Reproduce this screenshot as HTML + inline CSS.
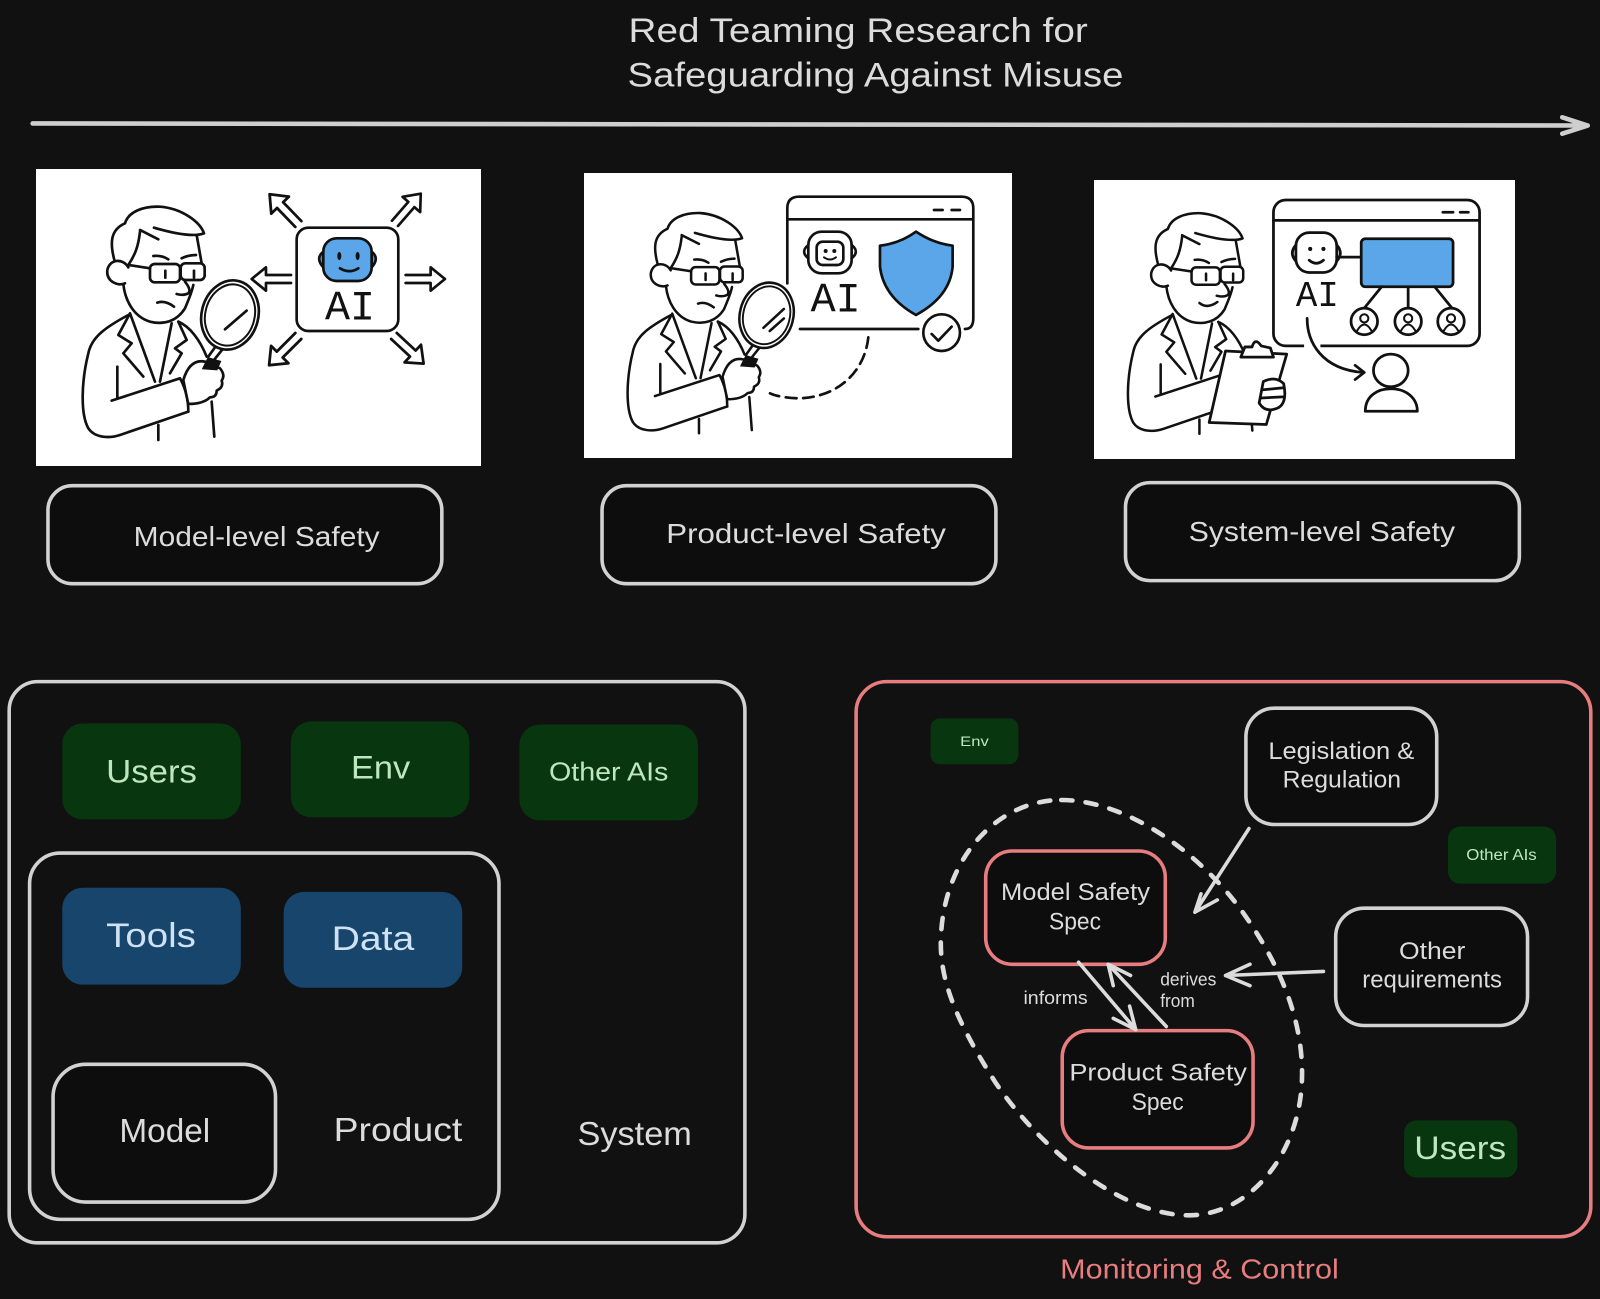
<!DOCTYPE html>
<html><head><meta charset="utf-8"><style>
html,body{margin:0;padding:0;background:#111112;width:1600px;height:1299px;overflow:hidden}
svg{display:block}
text{font-family:"Liberation Sans",sans-serif}
.t{fill:#dcdcdc}
.g{fill:#bfe6bf}
.b{fill:#cfe2f3}
.r{fill:#e87d80}
.box{fill:#0d0d0e;stroke:#d2d2d2;stroke-width:3.5}
.pk{fill:#0d0d0e;stroke:#e87d80;stroke-width:3.5}
.ln{fill:none;stroke:#dcdcdc;stroke-width:3.5;stroke-linecap:round;stroke-linejoin:round}
.k{fill:none;stroke:#111;stroke-width:8;stroke-linecap:round;stroke-linejoin:round}
.kw{fill:#fff;stroke:#111;stroke-width:8;stroke-linecap:round;stroke-linejoin:round}
.ai{font-family:"Liberation Mono",monospace;fill:#111}
</style></head><body>
<svg xmlns="http://www.w3.org/2000/svg" width="1600" height="1299" viewBox="0 0 1600 1299">
<defs>
<g id="head">
<path class="k" d="M205,405 C140,440 95,470 85,520 C65,600 60,700 85,745 C105,775 150,775 180,765 L385,695 M355,425 C390,440 420,480 440,530"/>
<path class="k" d="M172,560 L172,655 M155,662 L360,595 Q385,640 385,695 M210,400 L175,465 L215,490 L190,520 L250,590 M210,400 L285,605 M335,430 L300,605 M355,425 L380,480 L345,505 L365,520 L330,580 M295,735 L295,780 M455,665 L463,770"/>
<path class="k" d="M190,312 C195,360 220,410 270,425 C310,435 350,425 375,385 C385,360 395,340 400,315 M410,165 L425,250"/>
<path class="k" d="M163,240 C150,190 150,150 195,130 C205,95 250,78 300,80 C365,85 420,125 432,160 C400,172 340,160 282,143 M240,155 C235,200 225,225 205,255 M240,150 L295,178"/>
<path class="kw" d="M205,262 C190,235 150,235 142,270 C138,305 175,320 195,310"/>
<path class="k" d="M205,255 L270,265 M280,228 Q305,225 325,238 M365,235 Q385,225 408,225 M375,305 Q395,330 385,340 Q370,348 350,342"/>
<rect class="k" x="270" y="252" width="90" height="55" rx="14"/>
<rect class="k" x="362" y="250" width="72" height="50" rx="14"/>
<path class="k" d="M316,272 L316,293 M402,272 L402,293"/>
</g>
<g id="mouthSad"><path class="k" d="M292,368 Q315,360 342,380"/></g>
<g id="mag">
<path class="k" d="M445,530 L470,495 M462,540 L490,505"/>
<ellipse class="kw" cx="510" cy="405" rx="85" ry="105" transform="rotate(15 510 405)"/>
<ellipse class="k" style="stroke-width:6" cx="510" cy="405" rx="74" ry="93" transform="rotate(15 510 405)"/>
<path class="kw" d="M370,600 C385,550 410,540 435,545 L480,565 Q497,585 485,602 Q492,622 470,632 Q470,652 450,652 Q430,672 385,672 L378,640 Z"/>
<path fill="#111" stroke="#111" stroke-width="6" d="M430,565 L445,535 L480,545 L470,568 Z"/>
</g>
<path id="arw" class="k" d="M0,-12 L75,-12 L75,-35 L118,0 L75,35 L75,12 L0,12"/>
</defs>
<rect width="1600" height="1299" fill="#111112"/>

<!-- white panels -->
<rect x="36" y="169" width="445" height="297" fill="#fff"/>
<rect x="584" y="173" width="428" height="285" fill="#fff"/>
<rect x="1094" y="180" width="421" height="279" fill="#fff"/>

<!-- panel 1 -->
<g transform="translate(60,180) scale(.3333)">
<use href="#head"/><use href="#mouthSad"/><use href="#mag"/>
<path class="k" d="M495,448 L560,392"/>
<rect class="k" x="710" y="143" width="305" height="310" rx="35"/>
<path fill="#6a8fb5" stroke="#111" stroke-width="8" d="M790,215 Q765,235 790,262 Z M935,215 Q960,235 935,262 Z"/>
<rect x="790" y="175" width="145" height="128" rx="40" fill="#5aa6e8" stroke="#111" stroke-width="8"/>
<ellipse cx="838" cy="228" rx="6" ry="12" fill="#111"/><ellipse cx="893" cy="228" rx="6" ry="12" fill="#111"/>
<path class="k" d="M840,265 Q868,282 895,265"/>
<text class="ai" x="795" y="418" font-size="125">AI</text>
<use href="#arw" transform="translate(1037,297)"/>
<use href="#arw" transform="translate(693,297) rotate(180)"/>
<use href="#arw" transform="translate(715,132) rotate(-134) scale(1.05)"/>
<use href="#arw" transform="translate(1005,130) rotate(-49)"/>
<use href="#arw" transform="translate(715,468) rotate(135) scale(1.05)"/>
<use href="#arw" transform="translate(1002,468) rotate(43) scale(1.03)"/>
</g>

<!-- panel 2 -->
<g transform="translate(620,180) scale(.3333)">
<path class="k" d="M502,310 L502,85 Q502,50 537,50 L1025,50 Q1060,50 1060,85 L1060,415 Q1060,447 1035,447 M540,447 L895,447 M502,118 L1060,118 M942,90 L968,90 M995,90 L1020,90"/>
<rect class="k" x="565" y="155" width="130" height="125" rx="40"/>
<path class="k" d="M565,195 Q540,215 565,235 M695,195 Q720,215 695,235"/>
<rect class="k" x="590" y="185" width="80" height="70" rx="18"/>
<circle cx="617" cy="213" r="6" fill="#111"/><circle cx="643" cy="213" r="6" fill="#111"/>
<path class="k" style="stroke-width:6" d="M612,232 Q630,245 648,232"/>
<text class="ai" x="572" y="395" font-size="125">AI</text>
<path fill="#5aa6e8" stroke="#111" stroke-width="8" stroke-linejoin="round" d="M888,155 Q940,190 998,197 L998,260 Q990,350 888,405 Q790,350 780,260 L780,197 Q840,190 888,155 Z"/>
<circle class="kw" cx="965" cy="458" r="55"/>
<path class="k" d="M935,462 L955,482 L995,440"/>
<path class="k" style="stroke-dasharray:32 20" d="M745,472 C735,570 660,650 540,655 C510,655 470,650 450,640"/>
</g>
<g transform="translate(606.2,187.9) scale(.3145)">
<use href="#head"/><use href="#mouthSad"/><use href="#mag"/>
<path class="k" d="M500,445 L565,385 M520,455 L565,415"/>
</g>

<!-- panel 3 person -->
<g transform="translate(1106.5,188) scale(.315)">
<use href="#head"/>
<path class="k" d="M295,365 Q320,385 352,362"/>
</g>
<g transform="scale(1.0204)">
<g style="fill:none;stroke:#111;stroke-width:2.7;stroke-linecap:round;stroke-linejoin:round">
<rect x="1248" y="196" width="202" height="143" rx="12" fill="#fff"/>
<path d="M1248,216 L1450,216 M1414,208 L1424,208 M1431,208 L1439,208"/>
<rect x="1270" y="228" width="40" height="39" rx="13" fill="#fff"/>
<path d="M1270,240 Q1263,248 1270,256 M1310,240 Q1317,248 1310,256 M1310,252 L1334,252 M1283,255 Q1290,261 1297,255"/>
<rect x="1334" y="234" width="90" height="47" rx="4" fill="#5aa6e8"/>
<path d="M1354,281 L1337,302 M1380,281 L1380,302 M1406,281 L1423,302"/>
<g fill="#fff">
<circle cx="1337" cy="315" r="13"/><circle cx="1380" cy="315" r="13"/><circle cx="1422" cy="315" r="13"/>
</g>
<path stroke-width="2" d="M1337,312 m-4,0 a4,4 0 1,0 8,0 a4,4 0 1,0 -8,0 M1330,324 Q1337,312 1344,324 M1380,312 m-4,0 a4,4 0 1,0 8,0 a4,4 0 1,0 -8,0 M1373,324 Q1380,312 1387,324 M1422,312 m-4,0 a4,4 0 1,0 8,0 a4,4 0 1,0 -8,0 M1415,324 Q1422,312 1429,324"/>
<rect x="1278" y="330" width="16" height="18" fill="#fff" stroke="none"/>
<path d="M1281,312 C1281,335 1295,362 1336,365 M1328,358 L1337,365 L1328,372"/>
<ellipse cx="1363" cy="363" rx="17" ry="16" fill="#fff"/>
<path d="M1338,403 C1338,388 1350,381 1363,381 C1378,381 1389,390 1389,403 Z" fill="#fff"/>
<path d="M1201,344 L1261,347 L1241,416 L1185,414 Z" fill="#fff"/>
<path d="M1216,350 L1220,340 L1227,340 Q1230,330 1236,339 L1245,341 L1248,350 Z" fill="#fff"/>
<path d="M1238,374 Q1250,368 1258,376 Q1262,395 1252,400 Q1240,405 1234,395 Z M1238,382 L1258,380 M1236,390 L1257,389" fill="#fff"/>
</g>
<circle cx="1284" cy="244" r="2" fill="#111"/><circle cx="1297" cy="244" r="2" fill="#111"/>
<text class="ai" x="1270" y="300" font-size="35">AI</text>

<!-- title -->
<text class="t" x="616" y="41" font-size="34" textLength="450" lengthAdjust="spacingAndGlyphs">Red Teaming Research for</text>
<text class="t" x="615" y="85" font-size="34" textLength="486" lengthAdjust="spacingAndGlyphs">Safeguarding Against Misuse</text>
<path d="M32,121 L1556,123 M1531,115 L1556,123 L1531,131" fill="none" stroke="#cfcfcf" stroke-width="4.5" stroke-linecap="round" stroke-linejoin="round"/>

<!-- level labels -->
<rect class="box" x="47" y="476" width="386" height="96" rx="24"/>
<rect class="box" x="590" y="476" width="386" height="96" rx="24"/>
<rect class="box" x="1103" y="473" width="386" height="96" rx="24"/>
<text class="t" x="131" y="535" font-size="27" textLength="241" lengthAdjust="spacingAndGlyphs">Model-level Safety</text>
<text class="t" x="653" y="532" font-size="27" textLength="274" lengthAdjust="spacingAndGlyphs">Product-level Safety</text>
<text class="t" x="1165" y="530" font-size="27" textLength="261" lengthAdjust="spacingAndGlyphs">System-level Safety</text>

<!-- left diagram -->
<rect class="box" x="9" y="668" width="721" height="550" rx="28" style="fill:#111112"/>
<rect x="61" y="709" width="175" height="94" rx="20" fill="#07360f"/>
<rect x="285" y="707" width="175" height="94" rx="20" fill="#07360f"/>
<rect x="509" y="710" width="175" height="94" rx="20" fill="#07360f"/>
<text class="g" x="104" y="767" font-size="32" textLength="89" lengthAdjust="spacingAndGlyphs">Users</text>
<text class="g" x="344" y="763" font-size="32" textLength="58" lengthAdjust="spacingAndGlyphs">Env</text>
<text class="g" x="538" y="765" font-size="25" textLength="117" lengthAdjust="spacingAndGlyphs">Other AIs</text>
<rect class="box" x="29" y="836" width="460" height="359" rx="30" style="fill:#111112"/>
<rect x="61" y="870" width="175" height="95" rx="20" fill="#17456c"/>
<rect x="278" y="874" width="175" height="94" rx="20" fill="#17456c"/>
<text class="b" x="104" y="928" font-size="34" textLength="88" lengthAdjust="spacingAndGlyphs">Tools</text>
<text class="b" x="325" y="931" font-size="34" textLength="81" lengthAdjust="spacingAndGlyphs">Data</text>
<rect class="box" x="52" y="1043" width="218" height="135" rx="32"/>
<text class="t" x="117" y="1119" font-size="33" textLength="89" lengthAdjust="spacingAndGlyphs">Model</text>
<text class="t" x="327" y="1118" font-size="33" textLength="126" lengthAdjust="spacingAndGlyphs">Product</text>
<text class="t" x="566" y="1122" font-size="33" textLength="112" lengthAdjust="spacingAndGlyphs">System</text>

<!-- right diagram -->
<rect x="839" y="668" width="720" height="544" rx="30" fill="#111112" stroke="#e87d80" stroke-width="3.5"/>
<rect x="912" y="704" width="86" height="45" rx="9" fill="#07360f"/>
<text class="g" x="941" y="731" font-size="14" textLength="28" lengthAdjust="spacingAndGlyphs">Env</text>
<rect class="box" x="1221" y="694" width="187" height="114" rx="28"/>
<text class="t" x="1243" y="744" font-size="24" textLength="143" lengthAdjust="spacingAndGlyphs">Legislation &amp;</text>
<text class="t" x="1257" y="772" font-size="24" textLength="116" lengthAdjust="spacingAndGlyphs">Regulation</text>
<rect x="1419" y="810" width="106" height="56" rx="12" fill="#07360f"/>
<text class="g" x="1437" y="843" font-size="15" textLength="69" lengthAdjust="spacingAndGlyphs">Other AIs</text>
<rect class="box" x="1309" y="890" width="188" height="115" rx="28"/>
<text class="t" x="1371" y="940" font-size="24" textLength="65" lengthAdjust="spacingAndGlyphs">Other</text>
<text class="t" x="1335" y="968" font-size="24" textLength="137" lengthAdjust="spacingAndGlyphs">requirements</text>
<rect x="1376" y="1098" width="111" height="56" rx="12" fill="#07360f"/>
<text class="g" x="1386" y="1136" font-size="32" textLength="90" lengthAdjust="spacingAndGlyphs">Users</text>
<path d="M1040,784 C1100,784 1170,830 1215,890 C1255,945 1277,1000 1276,1055 C1275,1130 1225,1191 1165,1191 C1095,1191 1015,1120 975,1060 C940,1005 922,965 922,925 C922,845 975,784 1040,784 Z" fill="none" stroke="#dcdcdc" stroke-width="4.5" stroke-dasharray="11 13" stroke-linecap="round"/>
<rect class="pk" x="966" y="834" width="176" height="111" rx="26"/>
<text class="t" x="981" y="882" font-size="24" textLength="146" lengthAdjust="spacingAndGlyphs">Model Safety</text>
<text class="t" x="1028" y="911" font-size="24" textLength="51" lengthAdjust="spacingAndGlyphs">Spec</text>
<rect class="pk" x="1041" y="1010" width="187" height="115" rx="26"/>
<text class="t" x="1048" y="1059" font-size="24" textLength="174" lengthAdjust="spacingAndGlyphs">Product Safety</text>
<text class="t" x="1109" y="1088" font-size="24" textLength="51" lengthAdjust="spacingAndGlyphs">Spec</text>
<path class="ln" d="M1224,812 L1171,894 M1193,882 L1171,894 L1177,876"/>
<path class="ln" d="M1297,952 L1201,956 M1225,945 L1201,956 L1225,966"/>
<path class="ln" d="M1057,943 L1113,1009 M1091,998 L1113,1009 L1107,986"/>
<path class="ln" d="M1143,1006 L1086,945 M1108,956 L1086,945 L1091,966"/>
<text class="t" x="1003" y="984" font-size="18" textLength="63" lengthAdjust="spacingAndGlyphs">informs</text>
<text class="t" x="1137" y="966" font-size="18" textLength="55" lengthAdjust="spacingAndGlyphs">derives</text>
<text class="t" x="1137" y="987" font-size="18" textLength="34" lengthAdjust="spacingAndGlyphs">from</text>
<text class="r" x="1039" y="1253" font-size="27" textLength="273" lengthAdjust="spacingAndGlyphs">Monitoring &amp; Control</text>
</g>
</svg>
</body></html>
